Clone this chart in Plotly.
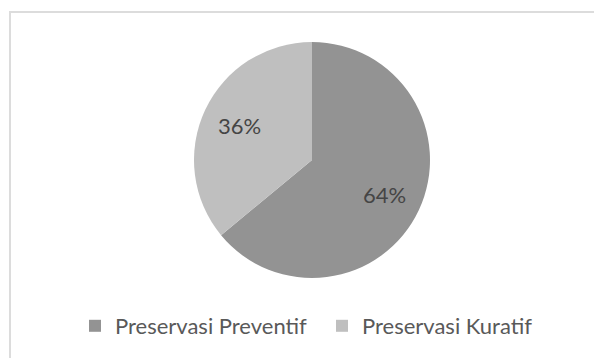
import math
import plotly.graph_objects as go

labels = ["Preservasi Preventif", "Preservasi Kuratif"]
values = [64, 36]
colors = ["#939393", "#bfbfbf"]

W, H = 602, 358
# pie geometry in pixels (figure coordinates)
CX, CY, R = 304, 152, 118
LABEL_R = 0.68

fig = go.Figure()
fig.add_trace(go.Pie(
    labels=labels,
    values=values,
    sort=False,
    direction="clockwise",
    rotation=0,
    marker=dict(colors=colors, line=dict(width=0)),
    textinfo="none",
    domain=dict(x=[(CX - R) / W, (CX + R) / W], y=[(H - CY - R) / H, (H - CY + R) / H]),
    hoverinfo="label+percent",
))

# percentage labels placed at mid-angle of each slice, derived from the values
total = sum(values)
annotations = []
cum = 0
for v in values:
    mid = (cum + v / 2) / total * 2 * math.pi
    cum += v
    px = CX + LABEL_R * R * math.sin(mid)
    py = CY - LABEL_R * R * math.cos(mid)
    annotations.append(dict(
        x=px / W, y=(H - py) / H, xref="paper", yref="paper",
        text=f"{round(v / total * 100)}%", showarrow=False,
        font=dict(family="Lato, Noto Sans, sans-serif", size=22, color="#454545"),
        xanchor="center", yanchor="middle",
    ))

fig.update_layout(
    width=W, height=H,
    margin=dict(l=0, r=0, t=0, b=0),
    paper_bgcolor="white",
    plot_bgcolor="white",
    showlegend=True,
    legend=dict(
        orientation="h",
        x=67 / W, xanchor="left",
        y=(H - 318) / H, yanchor="middle",
        font=dict(family="Lato, Noto Sans, sans-serif", size=22, color="#595959"),
        entrywidth=202, entrywidthmode="pixels",
        bgcolor="rgba(0,0,0,0)",
    ),
    annotations=annotations,
    shapes=[dict(
        type="rect", xref="paper", yref="paper",
        x0=2 / W, x1=1.05, y0=-0.05, y1=(H - 4) / H,
        line=dict(color="#dcdcdc", width=2),
        fillcolor="rgba(0,0,0,0)",
    )],
)

fig.write_html("out.html")
